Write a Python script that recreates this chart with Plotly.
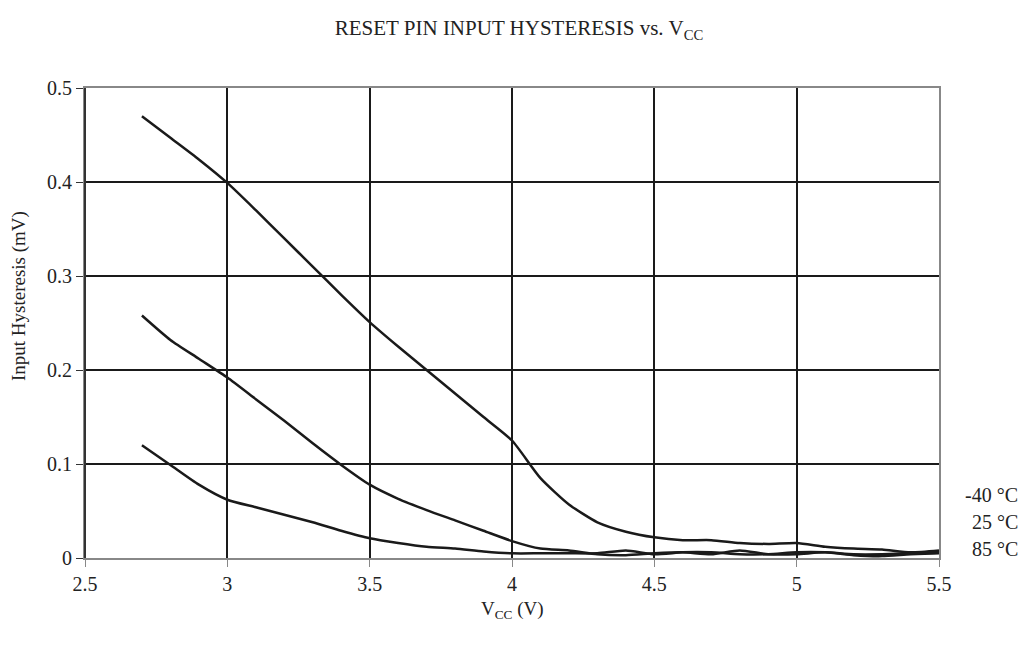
import plotly.graph_objects as go

vcc = [2.7, 2.8, 2.9, 3.0, 3.1, 3.2, 3.3, 3.4, 3.5, 3.6, 3.7, 3.8, 3.9, 4.0,
       4.1, 4.2, 4.3, 4.4, 4.5, 4.6, 4.7, 4.8, 4.9, 5.0, 5.1, 5.2, 5.3, 5.4, 5.5]

hyst_m40 = [0.470, 0.447, 0.424, 0.399, 0.370, 0.340, 0.310, 0.280, 0.251, 0.225,
            0.200, 0.175, 0.150, 0.125, 0.085, 0.057, 0.038, 0.028, 0.022, 0.019,
            0.019, 0.016, 0.015, 0.016, 0.012, 0.010, 0.009, 0.006, 0.008]

hyst_25 = [0.258, 0.232, 0.212, 0.192, 0.169, 0.146, 0.122, 0.099, 0.078, 0.063,
           0.051, 0.040, 0.029, 0.018, 0.010, 0.008, 0.004, 0.003, 0.005, 0.006,
           0.004, 0.008, 0.004, 0.004, 0.006, 0.003, 0.002, 0.004, 0.005]

hyst_85 = [0.120, 0.099, 0.078, 0.062, 0.054, 0.046, 0.038, 0.029, 0.021, 0.016,
           0.012, 0.010, 0.007, 0.005, 0.005, 0.005, 0.005, 0.008, 0.004, 0.006,
           0.006, 0.004, 0.004, 0.006, 0.006, 0.004, 0.004, 0.005, 0.007]

series_labels = ["-40 °C", "25 °C", "85 °C"]
x_ticks = [2.5, 3, 3.5, 4, 4.5, 5, 5.5]
y_ticks = [0, 0.1, 0.2, 0.3, 0.4, 0.5]

FONT = "Liberation Serif, Times New Roman, serif"
W, H = 1029, 649
L, R, T, B = 85, 90, 88, 91
PW, PH = W - L - R, H - T - B


def px_to_paper(px, py):
    return (px - L) / PW, (H - B - py) / PH


fig = go.Figure()
for ys, name in zip([hyst_m40, hyst_25, hyst_85], series_labels):
    fig.add_trace(go.Scatter(x=vcc, y=ys, mode="lines", name=name,
                             line=dict(color="#1a1a1a", width=2.5, shape="spline", smoothing=0.6),
                             showlegend=False))

# right-side series labels
for lab, py in zip(series_labels, [495, 522, 549]):
    px_, py_ = px_to_paper(1020, py)
    fig.add_annotation(text=lab, xref="paper", yref="paper", x=px_, y=py_,
                       xanchor="right", yanchor="middle", showarrow=False,
                       font=dict(family=FONT, size=20, color="#222"))

# axis titles
ax, ay = px_to_paper(512, 610)
fig.add_annotation(text="V<sub>CC</sub> (V)", xref="paper", yref="paper", x=ax, y=ay,
                   xanchor="center", yanchor="middle", showarrow=False,
                   font=dict(family=FONT, size=19, color="#222"))
bx, by = px_to_paper(19, 296)
fig.add_annotation(text="Input Hysteresis (mV)", xref="paper", yref="paper", x=bx, y=by,
                   xanchor="center", yanchor="middle", showarrow=False, textangle=-90,
                   font=dict(family=FONT, size=19, color="#222"))

fig.update_layout(
    width=W, height=H,
    margin=dict(l=L, r=R, t=T, b=B),
    paper_bgcolor="white", plot_bgcolor="white",
    font=dict(family=FONT, size=20, color="#222"),
    title=dict(text="RESET PIN INPUT HYSTERESIS vs. V<sub>CC</sub>",
               x=519 / W, xanchor="center", y=1 - 28 / H, yanchor="middle",
               font=dict(family=FONT, size=21, color="#222")),
    xaxis=dict(range=[2.5, 5.5], tickvals=x_ticks, ticktext=[str(v) for v in x_ticks],
               showgrid=True, gridcolor="#1a1a1a", gridwidth=2,
               showline=True, linecolor="#888", linewidth=2, mirror=True,
               ticks="outside", ticklen=7, tickcolor="#888", tickwidth=1,
               zeroline=False, tickfont=dict(family=FONT, size=20)),
    yaxis=dict(range=[0, 0.5], tickvals=y_ticks, ticktext=["0", "0.1", "0.2", "0.3", "0.4", "0.5"],
               showgrid=True, gridcolor="#1a1a1a", gridwidth=2,
               showline=True, linecolor="#888", linewidth=2, mirror=True,
               ticks="outside", ticklen=7, tickcolor="#333", tickwidth=1,
               zeroline=False, tickfont=dict(family=FONT, size=20)),
)

# left axis is darker in reference
fig.add_shape(type="line", xref="paper", yref="paper", x0=0, x1=0, y0=0, y1=1,
              line=dict(color="#333", width=2))

fig.write_html("out.html", config={"displayModeBar": False},
               post_script="document.body.style.margin='0';")
